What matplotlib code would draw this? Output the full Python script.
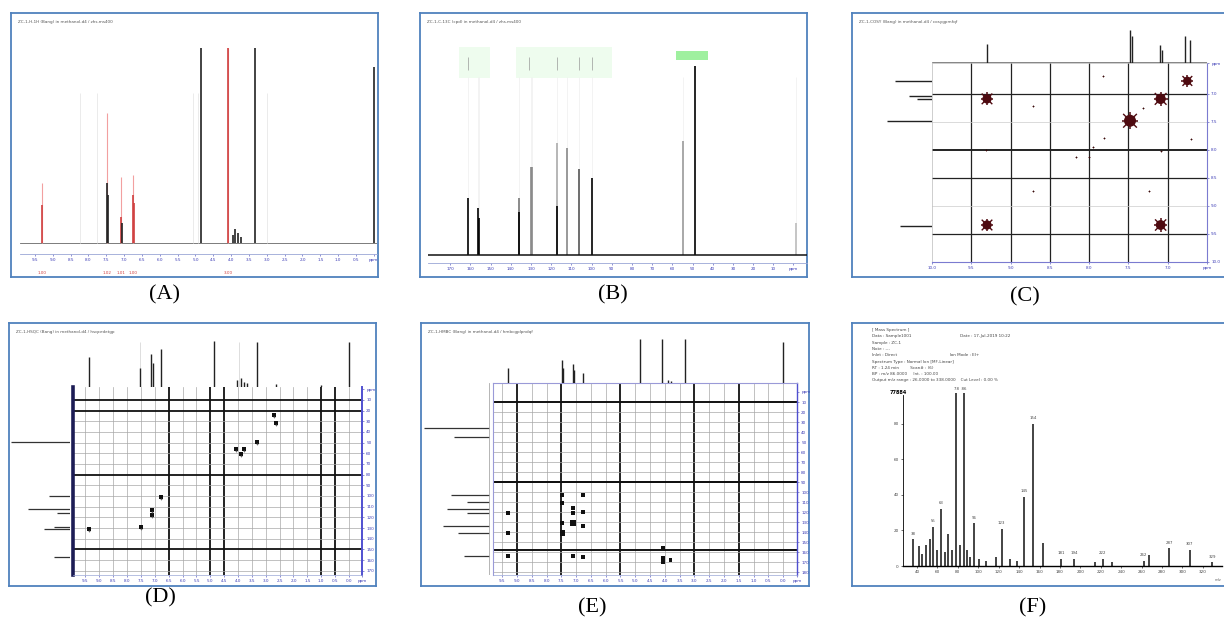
import matplotlib
matplotlib.use("Agg")
import matplotlib.pyplot as plt
import numpy as np

W, H = 1224, 623
BLUE = "#4f81bd"
TICK = "#3b3bb5"
SERIF = "Liberation Serif"

# ---------------- (A) 1H NMR ----------------
a_ppm = [9.30, 7.48, 7.45, 7.10, 7.07, 6.76, 6.73, 4.85, 4.09, 3.95, 3.88, 3.80, 3.72, 3.33, 0.00]
a_int = [0.19, 0.30, 0.24, 0.13, 0.10, 0.24, 0.20, 0.975, 0.975, 0.04, 0.07, 0.05, 0.03, 0.975, 0.88]
a_red = [1, 0, 0, 1, 0, 1, 1, 0, 1, 0, 0, 0, 0, 0, 0]
a_integral_ppm = [9.30, 7.48, 7.09, 6.75, 4.09]
a_integral_top = [0.30, 0.65, 0.33, 0.34, 0.975]
a_integral_lbl = ["1.00", "1.02", "1.01", "1.00", "3.00"]
a_faint_ppm = [8.24, 7.76, 5.07, 4.93, 3.00]
a_title = "ZC-1-H-1H (Bang) in methanol-d4 / zhs.ms400"

# ---------------- (B) 13C NMR ----------------
b_ppm = [161.2, 156.2, 155.6, 136.0, 130.0, 129.4, 117.0, 112.0, 106.0, 100.0, 54.8, 48.8, -1.2]
b_int = [0.265, 0.22, 0.17, 0.265, 0.41, 0.41, 0.52, 0.50, 0.40, 0.36, 0.53, 0.88, 0.15]
b_tone = ["k", "k", "k", "#777777", "#888888", "#888888", "#aaaaaa", "#888888",
          "#555555", "k", "#999999", "k", "#bbbbbb"]
b_inner_ppm = [136.0, 117.0]
b_inner_int = [0.20, 0.23]
b_label_spans = [(165.5, 150.5), (137.5, 90.0)]
b_label_marks = [161.2, 131.0, 117.0, 106.0, 100.0]
b_solvent_span = (58.0, 42.5)
b_title = "ZC-1-C-13C (cpd) in methanol-d4 / zhs.ms400"

# ---------------- (C) COSY ----------------
c_proj_ppm = [9.30, 7.48, 7.45, 7.10, 7.07, 6.78, 6.72]
c_proj_int = [0.57, 1.00, 0.80, 0.55, 0.40, 0.82, 0.70]
c_side_ppm = [6.77, 7.04, 7.10, 7.48, 9.36]
c_side_len = [0.83, 0.52, 0.33, 1.00, 0.71]
c_big_x = [9.30, 9.30, 7.09, 7.09, 7.48, 6.75]
c_big_y = [7.09, 9.34, 9.34, 7.09, 7.48, 6.77]
c_big_s = [45, 45, 50, 55, 75, 38]
c_small_x = [8.72, 8.72, 7.24, 7.82, 7.81, 8.17, 8.00, 9.31, 7.08, 7.32, 6.70, 7.95, 7.50]
c_small_y = [7.22, 8.73, 8.73, 6.68, 7.79, 8.12, 8.12, 8.00, 8.02, 7.25, 7.80, 7.95, 7.40]
c_vgrid = [9.5, 9.0, 8.5, 8.0, 7.5, 7.0]
c_hgrid_dark = [7.0, 8.0, 8.5, 9.5]
c_hgrid_light = [7.5, 9.0]
c_title = "ZC-1-COSY (Bang) in methanol-d4 / cosygpmfqf"

# ---------------- (D) HSQC ----------------
d_proj_ppm = [9.36, 7.54, 7.12, 7.08, 6.78, 4.86, 4.02, 3.90, 3.80, 3.68, 3.33, 2.62, 1.00, 0.00]
d_proj_int = [0.56, 0.35, 0.60, 0.45, 0.70, 0.84, 0.12, 0.16, 0.10, 0.08, 0.82, 0.05, 0.04, 0.82]
d_side_ppm = [49.3, 100.5, 112.0, 115.5, 128.7, 130.6, 156.7]
d_side_len = [1.00, 0.35, 0.72, 0.22, 0.28, 0.45, 0.28]
d_cross_h = [3.33, 4.06, 3.77, 3.88, 6.78, 7.10, 7.10, 7.50, 9.36, 2.64, 2.70]
d_cross_c = [49.3, 55.8, 55.8, 60.5, 100.7, 112.8, 117.5, 128.7, 130.6, 31.5, 24.0]
d_vdark = [6.5, 5.0, 4.5, 1.0, 0.5]
d_hdark = [10, 20, 80, 150]
d_title = "ZC-1-HSQC (Bang) in methanol-d4 / hsqcedetgp"

# ---------------- (E) HMBC ----------------
e_proj_ppm = [9.30, 7.48, 7.45, 7.10, 7.06, 6.76, 4.85, 4.09, 3.90, 3.80, 3.33, 0.00]
e_proj_int = [0.30, 0.45, 0.30, 0.38, 0.25, 0.20, 0.88, 0.88, 0.05, 0.04, 0.88, 0.82]
e_side_ppm = [36.0, 45.0, 103.0, 110.0, 117.0, 121.0, 134.0, 141.0, 164.0]
e_side_len = [1.00, 0.55, 0.60, 0.35, 0.65, 0.35, 0.72, 0.48, 0.40]
e_cross_h = [9.30, 9.30, 9.30, 7.47, 7.47, 7.47, 7.47, 7.10, 7.10, 7.10, 6.76,
             6.76, 6.76, 7.10, 6.76, 4.06, 4.06, 4.06, 3.82]
e_cross_c = [121, 141, 164, 103, 111, 131, 141, 116, 121, 131, 103,
             120, 134, 164, 165, 156, 166, 170, 168]
e_cross_s = [10, 10, 10, 7, 7, 8, 14, 7, 7, 16, 7,
             7, 7, 8, 8, 7, 12, 12, 5]
e_vdark = [9.0, 7.5, 5.5, 3.0, 1.5]
e_hdark = [10, 90, 158]
e_title = "ZC-1-HMBC (Bang) in methanol-d4 / hmbcgplpndqf"

# ---------------- (F) EI mass spectrum ----------------
f_mz = [36, 42, 45, 49, 53, 56, 60, 63.5, 67, 70, 74, 78, 82, 86, 89, 92, 96, 101, 108,
        117, 123, 131, 138, 145, 154, 163, 181, 194, 214, 222, 231, 262, 267, 287, 307, 329]
f_rel = [15, 11, 7, 12, 15, 22, 9, 32, 8, 18, 9, 97, 12, 97, 9, 5, 24, 4, 3,
         5, 21, 4, 3, 39, 80, 13, 4, 4, 2, 4, 2, 3, 6, 10, 9, 2]
f_labels = {36: "38", 63.5: "63", 56: "55", 96: "96", 123: "123", 145: "145", 154: "154",
            181: "181", 194: "194", 222: "222", 262: "262", 287: "287", 307: "307", 329: "329"}
f_header = [
    "[ Mass Spectrum ]",
    "Data : Sample1001                                       Date : 17-Jul-2019 10:22",
    "Sample : ZC-1",
    "Note : ---",
    "Inlet : Direct                                          Ion Mode : EI+",
    "Spectrum Type : Normal Ion [MF-Linear]",
    "RT : 1.24 min         Scan# : (6)",
    "BP : m/z 86.0000     Int. : 100.00",
    "Output m/z range : 26.0000 to 338.0000    Cut Level : 0.00 %",
]

fig = plt.figure(figsize=(W / 100, H / 100), dpi=100)


def box(x0, y0, x1, y1):
    # pixel box (origin top-left) -> axes
    ax = fig.add_axes([x0 / W, 1 - y1 / H, (x1 - x0) / W, (y1 - y0) / H])
    ax.patch.set_alpha(0)
    return ax


def clean(ax):
    ax.set_xticks([]); ax.set_yticks([])
    for s in ax.spines.values():
        s.set_visible(False)


def frame(x0, y0, x1, y1, label, lx, ly, title=None):
    ax = box(x0, y0, x1, y1)
    ax.set_xticks([]); ax.set_yticks([])
    for s in ax.spines.values():
        s.set_color(BLUE); s.set_linewidth(1.3)
    fig.text(lx / W, 1 - ly / H, label, ha="center", va="center", family=SERIF, fontsize=16)
    if title:
        fig.text((x0 + 7) / W, 1 - (y0 + 9) / H, title, fontsize=3.0, color="#555555", va="center")
    return ax


def small_ticks(ax, which="x", color=TICK):
    ax.tick_params(axis=which, length=1.5, width=0.4, labelsize=3.0, labelcolor=color,
                   color=color, pad=1.5)


# ---------- A ----------
frame(11, 13, 378, 277, "(A)", 165, 295, a_title)
ax = box(20, 43, 377, 254)
clean(ax)
ax.set_xlim(9.92, -0.09); ax.set_ylim(-0.055, 1.0)
ax.axhline(0, color="#666666", lw=0.6)
ax.vlines(a_faint_ppm, 0, 0.75, color="#e8e8e8", lw=0.6)
ax.vlines(a_integral_ppm, 0, a_integral_top, color="#f2a0a0", lw=0.8)
cols = ["#d04040" if r else "#222222" for r in a_red]
ax.vlines(a_ppm, 0, a_int, colors=cols, lw=1.2)
ax.spines["bottom"].set_visible(True)
ax.spines["bottom"].set_color("#9aa6d6"); ax.spines["bottom"].set_linewidth(0.6)
tk = list(np.arange(9.5, 0.4, -0.5)) + [0.0]
ax.set_xticks(tk)
ax.set_xticklabels([f"{t:.1f}" for t in tk[:-1]] + ["ppm"])
small_ticks(ax)
for p, lab in zip(a_integral_ppm, a_integral_lbl):
    ax.text(p, -0.15, lab, color="#d04040", fontsize=3.0, ha="center", va="center", clip_on=False)

# ---------- B ----------
frame(420, 13, 807, 277, "(B)", 613, 295, b_title)
ax = box(428, 40, 807, 263)
clean(ax)
ax.set_xlim(181, -6.7); ax.set_ylim(-0.037, 1.0)
for (p0, p1) in b_label_spans:
    ax.axvspan(p1, p0, ymin=0.83, ymax=0.97, color="#eefcee", lw=0)
ax.axvspan(b_solvent_span[1], b_solvent_span[0], ymin=0.91, ymax=0.95, color="#9ff09f", lw=0)
ax.vlines(b_label_marks, 0.86, 0.92, color="#999999", lw=0.5)
ax.vlines(b_ppm, np.array(b_int), 0.83, color="#eeeeee", lw=0.5)
ax.vlines(b_ppm, 0, b_int, colors=b_tone, lw=1.2)
ax.vlines(b_inner_ppm, 0, b_inner_int, color="k", lw=1.2)
ax.axhline(0, color="#111111", lw=1.1)
ax.spines["bottom"].set_visible(True)
ax.spines["bottom"].set_color("#9aa6d6"); ax.spines["bottom"].set_linewidth(0.6)
tk = list(range(170, 5, -10)) + [0]
ax.set_xticks(tk)
ax.set_xticklabels([str(t) for t in tk[:-1]] + ["ppm"])
small_ticks(ax)

# ---------- C ----------
frame(852, 13, 1226, 277, "(C)", 1025, 297, c_title)
ax = box(932, 63, 1207, 262)
ax.set_xlim(10.0, 6.5); ax.set_ylim(10.0, 6.45)
for s in ["left", "top"]:
    ax.spines[s].set_color("#bbbbbb"); ax.spines[s].set_linewidth(0.5)
for s in ["right", "bottom"]:
    ax.spines[s].set_color("#7b7bd0"); ax.spines[s].set_linewidth(0.8)
for v in c_vgrid:
    ax.axvline(v, color="#222222", lw=0.9)
for h in c_hgrid_dark:
    ax.axhline(h, color="#222222", lw=1.4 if h == 8.0 else 0.9)
for h in c_hgrid_light:
    ax.axhline(h, color="#cccccc", lw=0.5)
ax.scatter(c_small_x, c_small_y, s=4, marker="+", color="#3a0a0a", lw=0.6, zorder=3)
big_s = np.array(c_big_s)
ax.scatter(c_big_x, c_big_y, s=big_s, marker="o", color="#4e0a10", lw=0, zorder=4)
ax.scatter(c_big_x, c_big_y, s=big_s * 1.9, marker="+", color="#4e0a10", lw=1.1, zorder=4)
ax.scatter(c_big_x, c_big_y, s=big_s * 1.3, marker="x", color="#4e0a10", lw=1.0, zorder=4)
ax.set_xticks([10.0, 9.5, 9.0, 8.5, 8.0, 7.5, 7.0, 6.5])
ax.set_xticklabels(["10.0", "9.5", "9.0", "8.5", "8.0", "7.5", "7.0", "ppm"])
ax.yaxis.tick_right()
ax.set_yticks([6.45, 7.0, 7.5, 8.0, 8.5, 9.0, 9.5, 10.0])
ax.set_yticklabels(["ppm", "7.0", "7.5", "8.0", "8.5", "9.0", "9.5", "10.0"])
small_ticks(ax, "x"); small_ticks(ax, "y")
ax = box(932, 28, 1207, 63)
clean(ax)
ax.set_xlim(10.0, 6.5); ax.set_ylim(0, 1.05)
ax.axhline(0.02, color="#555555", lw=0.5)
ax.vlines(c_proj_ppm, 0, c_proj_int, color="#222222", lw=1.0)
ax = box(885, 63, 932, 262)
clean(ax)
ax.set_xlim(1.05, 0); ax.set_ylim(10.0, 6.45)
ax.hlines(c_side_ppm, 0, c_side_len, color="#222222", lw=1.0)

# ---------- D ----------
frame(9, 323, 376, 586, "(D)", 160, 598, d_title)
ax = box(73, 387, 362, 575)
ax.set_xlim(9.95, -0.47); ax.set_ylim(174, -2)
ax.spines["left"].set_color("#1c1c55"); ax.spines["left"].set_linewidth(2.6)
ax.spines["top"].set_visible(False)
ax.spines["right"].set_color("#5050d0"); ax.spines["right"].set_linewidth(1.4)
ax.spines["bottom"].set_color("#9aa6d6"); ax.spines["bottom"].set_linewidth(0.5)
for v in np.arange(9.5, -0.1, -0.5):
    dark = any(abs(v - d) < 1e-6 for d in d_vdark)
    ax.axvline(v, color="#111111" if dark else "#a8a8a8", lw=1.3 if dark else 0.5)
for h in range(10, 171, 10):
    dark = h in d_hdark
    ax.axhline(h, color="#111111" if dark else "#a8a8a8", lw=1.3 if dark else 0.5)
ax.scatter(d_cross_h, d_cross_c, s=7, marker="s", color="#111111", lw=0, zorder=4)
ax.scatter(d_cross_h, np.array(d_cross_c) + 2.5, s=3, marker="+", color="#666666", lw=0.5, zorder=4)
tk = list(np.arange(9.5, -0.1, -0.5)) + [-0.47]
ax.set_xticks(tk)
ax.set_xticklabels([f"{t:.1f}" for t in tk[:-1]] + ["ppm"])
ax.yaxis.tick_right()
ax.set_yticks(list(range(0, 171, 10)))
ax.set_yticklabels(["ppm"] + [str(t) for t in range(10, 171, 10)])
small_ticks(ax, "x"); small_ticks(ax, "y")
ax = box(73, 330, 362, 387)
clean(ax)
ax.set_xlim(9.95, -0.47); ax.set_ylim(0, 1.05)
ax.vlines([7.54, 3.95], 0, 0.82, color="#d8d8d8", lw=0.6)
ax.vlines(d_proj_ppm, 0, d_proj_int, color="#222222", lw=1.0)
ax.axhline(0.0, color="#bbbbbb", lw=0.5)
ax = box(10, 387, 70, 575)
clean(ax)
ax.set_xlim(1.02, 0); ax.set_ylim(174, -2)
ax.hlines(d_side_ppm, 0, d_side_len, color="#333333", lw=0.9)

# ---------- E ----------
frame(421, 323, 809, 586, "(E)", 592, 608, e_title)
ax = box(493, 383, 797, 575)
ax.set_xlim(9.81, -0.47); ax.set_ylim(183, -9)
ax.spines["left"].set_color("#9a9ad8"); ax.spines["left"].set_linewidth(0.8)
ax.spines["top"].set_color("#9a9ad8"); ax.spines["top"].set_linewidth(0.8)
ax.spines["right"].set_color("#5050d0"); ax.spines["right"].set_linewidth(1.0)
ax.spines["bottom"].set_color("#9aa6d6"); ax.spines["bottom"].set_linewidth(0.5)
for v in np.arange(9.5, -0.1, -0.5):
    dark = any(abs(v - d) < 1e-6 for d in e_vdark)
    ax.axvline(v, color="#111111" if dark else "#a8a8a8", lw=1.3 if dark else 0.5)
for h in list(range(20, 181, 10)) + e_hdark:
    dark = h in e_hdark
    ax.axhline(h, color="#111111" if dark else "#a8a8a8", lw=1.4 if dark else 0.5)
ax.scatter(e_cross_h, e_cross_c, s=e_cross_s, marker="s", color="#111111", lw=0, zorder=4)
tk = list(np.arange(9.5, -0.1, -0.5)) + [-0.47]
ax.set_xticks(tk)
ax.set_xticklabels([f"{t:.1f}" for t in tk[:-1]] + ["ppm"])
ax.yaxis.tick_right()
ax.set_yticks(list(range(0, 181, 10)))
ax.set_yticklabels(["ppm"] + [str(t) for t in range(10, 181, 10)])
small_ticks(ax, "x"); small_ticks(ax, "y")
ax = box(493, 330, 797, 383)
clean(ax)
ax.set_xlim(9.81, -0.47); ax.set_ylim(0, 1.05)
ax.vlines(e_proj_ppm, 0, e_proj_int, color="#222222", lw=1.0)
ax.axhline(0.0, color="#bbbbbb", lw=0.5)
ax = box(423, 383, 490, 575)
clean(ax)
ax.set_xlim(1.02, 0); ax.set_ylim(183, -9)
ax.hlines(e_side_ppm, 0, e_side_len, color="#333333", lw=0.9)
ax.axvline(0.02, color="#aaaaaa", lw=0.6)

# ---------- F ----------
frame(852, 323, 1226, 586, "(F)", 1033, 608)
for i, line in enumerate(f_header):
    fig.text(872 / W, 1 - (330 + 6.3 * i) / H, line, fontsize=3.0, color="#444444", va="center")
fig.text(890 / W, 1 - 392 / H, "77884", fontsize=3.6, weight="bold", va="center")
ax = box(903, 388, 1222, 566)
ax.set_xlim(26.3, 338.7); ax.set_ylim(0, 100)
ax.spines["top"].set_visible(False); ax.spines["right"].set_visible(False)
ax.spines["left"].set_bounds(0, 96); ax.spines["left"].set_linewidth(0.6)
ax.spines["bottom"].set_linewidth(1.0)
ax.vlines(f_mz, 0, f_rel, color="#111111", lw=1.1)
for m, lab in f_labels.items():
    ax.text(m, f_rel[f_mz.index(m)] + 2, lab, fontsize=2.8, ha="center", va="bottom", color="#444444")
ax.text(82, 98.5, "78  86", fontsize=2.8, ha="center", va="bottom", color="#444444", clip_on=False)
ax.set_xticks(range(40, 321, 20))
ax.set_yticks([0, 20, 40, 60, 80])
ax.tick_params(length=1.5, width=0.4, labelsize=3.0, labelcolor="#444444", pad=1.5)
fig.text(1215 / W, 1 - 580 / H, "m/z", fontsize=2.6, color="#666666", va="center")

fig.savefig("out.png", dpi=100)
